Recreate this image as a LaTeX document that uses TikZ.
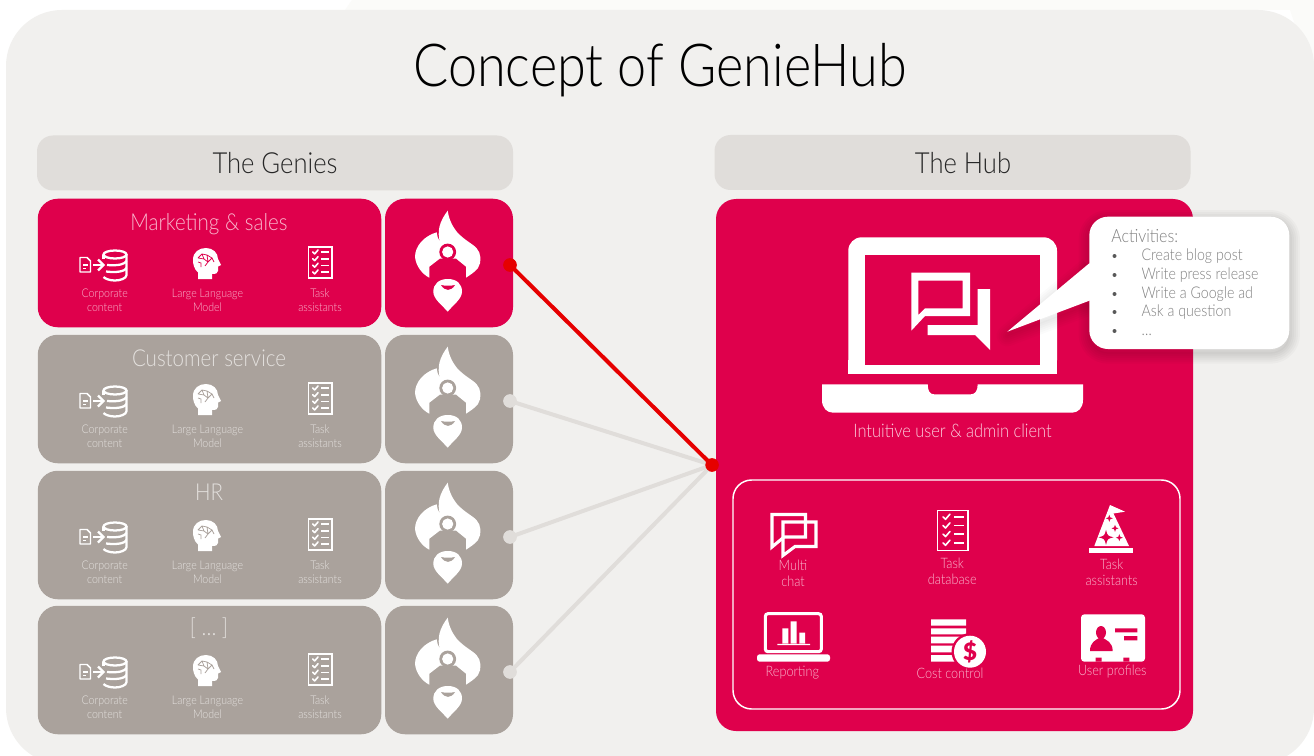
\documentclass[tikz,border=0pt]{standalone}
\usepackage{fontspec}
\setmainfont{Lato Light}[FakeStretch=0.88]
\definecolor{pink}{HTML}{DF004C}
\definecolor{paneL}{HTML}{F1F0EE}
\definecolor{faintbg}{HTML}{FBFBF9}
\definecolor{headbar}{HTML}{E0DDDA}
\definecolor{stone}{HTML}{AAA29C}
\definecolor{wirered}{HTML}{E60000}
\definecolor{pinklab}{HTML}{F9B6CC}
\definecolor{stonelab}{HTML}{E4E1DE}
\definecolor{calltext}{HTML}{808080}
\newcommand{\fs}[1]{\fontsize{#1pt}{#1pt}\selectfont}
\newcommand{\fsb}[2]{\fontsize{#1pt}{#2pt}\selectfont}
\tikzset{
  x=0.75pt,y=-0.75pt,
  sz/.style 2 args={minimum width=#1*0.75pt,minimum height=#2*0.75pt,inner sep=0pt,outer sep=0pt},
  card/.style={rounded corners=15pt,draw=none},
  bar/.style={sz={476}{55},fill=headbar,rounded corners=12pt,font=\fs{21.8},text=black!85},
  lab/.style={align=center,inner sep=0pt,font=\fsb{9}{10.2}},
  lab2/.style={align=center,inner sep=0pt,font=\fsb{10.8}{12},text=pinklab},
  calltxt/.style={anchor=mid west,inner sep=0pt,font=\fs{12.1},text=calltext},
  callbul/.style={circle,fill=black!65,minimum size=3pt,inner sep=0pt},
  wire/.style={line width=3pt,draw=headbar},
  dotg/.style={circle,fill=headbar,minimum size=10pt,inner sep=0pt},
  dotr/.style={circle,fill=wirered,minimum size=10pt,inner sep=0pt},
  iconline/.style={draw=white,line join=round,line cap=round},
}
% checklist icon
\newcommand{\chk}[3]{%
\begin{scope}[shift={(#1,#2)},scale=#3]
  \draw[white,line width=1.1pt] (-11.7,-15.3) rectangle (11.7,15.3);
  \foreach \yy in {-10.5,-3.8,2.8,9.5}{
    \draw[iconline,line width=1.2pt] (-7.5,\yy) -- (-5.6,\yy+1.9) -- (-2.2,\yy-2.1);
    \draw[white,line width=1.2pt] (1,\yy) -- (8.6,\yy);
  }
\end{scope}}
% genie icon, centre on ring axis
\newcommand{\genie}[3]{%
\begin{scope}[shift={(#1,#2)}]
  \fill[white] (-0.3,-49.3) .. controls (1,-40) and (5,-33) .. (8.7,-28.3)
     .. controls (16,-20) and (25,-16) .. (28.7,-11.7)
     .. controls (33,-7) and (34,2) .. (30,8)
     .. controls (27,12) and (22,15) .. (18,17.7)
     -- (18,6.7) -- (8,-1.5) -- (-8,-1.5) -- (-18.7,6.7) -- (-18.7,17.7)
     .. controls (-26,14) and (-32,6) .. (-33,-3)
     .. controls (-33,-14) and (-24,-24) .. (-11.3,-27.7)
     .. controls (-11,-24) and (-10,-21) .. (-8,-18)
     .. controls (-11,-28) and (-9,-38) .. (-0.3,-49.3) -- cycle;
  \fill[#3] (-0.3,-8) circle (8.4);
  \fill[white] (-0.3,-8) circle (5.6);
  \fill[white] (-0.3,19) .. controls (-9,19) and (-14.7,24) .. (-14.7,31.7)
     .. controls (-14.7,39) and (-6,45) .. (-0.3,51.7)
     .. controls (5,45) and (14,39) .. (14,31.7)
     .. controls (14,24) and (9,19) .. (-0.3,19) -- cycle;
  \fill[#3] (-7,25) .. controls (-3,31.5) and (3,31.5) .. (7,25) .. controls (3,26) and (-3,26) .. (-7,25) -- cycle;
\end{scope}}
% one row of the left column
\newcommand{\genierow}[7]{% suffix, top, fill, label colour, title, dot, title y
  \node[sz={343.5}{128.5},fill=#3,card] (box#1) at (209.5,#2+64) {};
  \node[sz={128}{128.5},fill=#3,card] (gen#1) at (449,#2+64) {};
  \genie{448}{#2+61}{#3}
  \node[inner sep=0pt,font=\fs{17.5},text=#4] (ttl#1) at (209,#7) {#5};
  \begin{scope}[shift={(0,#2-199)}]
    % document + arrow + database
    \draw[white,line width=1.1pt,line join=round] (80,257.5) -- (87,257.5) -- (90.5,261) -- (90.5,272) -- (80,272) -- cycle;
    \draw[white,line width=1pt] (83,265) -- (87.5,265) (83,268.5) -- (86,268.5);
    \draw[white,line width=1.7pt] (93,265) -- (102,265);
    \draw[white,line width=1.7pt,line join=miter] (98,259.5) -- (103.5,265) -- (98,270.5);
    \draw[white,line width=1.7pt] (115,254.5) ellipse (11.5 and 4);
    \draw[white,line width=1.7pt] (126.5,254.5) -- (126.5,275) .. controls (126.5,278.5) and (120,280.5) .. (115,280.5) .. controls (110,280.5) and (105.5,279) .. (103.5,277);
    \draw[white,line width=1.7pt] (126.5,261) .. controls (125,264) and (119,266) .. (107,265);
    \draw[white,line width=1.7pt] (126.5,268) .. controls (125,271) and (118,273) .. (106,271.5);
    \draw[white,line width=1.7pt] (103.5,254.5) -- (103.5,259);
    % head with brain
    \fill[white] (198,279) -- (198,272.5) .. controls (194,269) and (193,264) .. (193,260)
       .. controls (193,252) and (199,248) .. (206,248) .. controls (213,248) and (218,253) .. (218,259)
       -- (221,265) -- (218,266.5) -- (218,271) .. controls (218,274) and (215,274) .. (212,274) -- (212,279) -- cycle;
    \draw[#3,line width=0.55pt] (198,258) -- (202,254) -- (207,255) -- (212,258) -- (208,262) -- (204,259) -- (198,258)
      (202,254) -- (204,259) (208,262) -- (205,266) (198,262) -- (201,263) -- (201,267) (207,255) -- (208,262) (212,258) -- (214,262);
    \chk{320.3}{262.5}{1}
    \node[lab,text=#4] (lc#1) at (104.7,300.5) {Corporate\\content};
    \node[lab,text=#4] (ll#1) at (207.5,300.5) {Large Language\\Model};
    \node[lab,text=#4] (lt#1) at (320,300) {Task\\assistants};
  \end{scope}
  \node[#6] (dot#1) at (510,#2+66) {};
}
\begin{document}
\begin{tikzpicture}
\useasboundingbox (0,0) rectangle (1314,756);
\begin{scope}
\clip (0,0) rectangle (1314,756);
\fill[white] (0,0) rectangle (1314,756);
\fill[faintbg] (345,10) -- (352,0) -- (1314,0) -- (1314,80) -- (1290,10) -- cycle;
\fill[paneL,rounded corners=42pt] (6,10) rectangle (1314,764);
\end{scope}

\node[inner sep=0pt,font=\fs{44.5},text=black] (title) at (660,70) {Concept of GenieHub};
\node[bar] (genies) at (275,163) {The Genies};
\node[bar] (hubbar) at (952.5,162.5) {};
\node[inner sep=0pt,font=\fs{21.8},text=black!85] (hubttl) at (963,163) {The Hub};

% hub panel
\node[sz={477}{532},fill=pink,card] (hub) at (954.5,465) {};

% rows
\genierow{a}{199}{pink}{pinklab}{Marketing \& sales}{dotr}{224}
\genierow{b}{335}{stone}{stonelab}{Customer service}{dotg}{358}
\genierow{c}{471}{stone}{stonelab}{HR}{dotg}{492.5}
\genierow{d}{606}{stone}{stonelab}{[ … ]}{dotg}{628}

% connectors
\node[dotr] (join) at (712,465) {};
\draw[wire] (dotb.center) -- (join.center);
\draw[wire] (dotc.center) -- (join.center);
\draw[wire] (dotd.center) -- (join.center);
\node[dotg] at (dotb) {};
\node[dotg] at (dotc) {};
\node[dotg] at (dotd) {};
\draw[line width=3pt,draw=wirered] (dota.center) -- (join.center);
\node[dotr] at (join) {};
\node[dotr] at (dota) {};

% laptop
\fill[white,rounded corners=10pt] (848.3,373.7) -- (848.3,237.3) -- (1057,237.3) -- (1057,373.7) -- cycle;
\fill[white] (848.3,360) rectangle (1057,373.7);
\fill[pink] (865,255.3) rectangle (1040,365.3);
\fill[white] (822,384.3) -- (927.7,384.3) .. controls (927.7,391) and (930,394.3) .. (934,394.3) -- (971,394.3) .. controls (975,394.3) and (977.7,391) .. (977.7,384.3) -- (1083,384.3) -- (1083,400) .. controls (1083,408) and (1078,412.7) .. (1072,412.7) -- (833,412.7) .. controls (827,412.7) and (822,408) .. (822,400) -- cycle;
\fill[white,even odd rule] (911.3,272.7) -- (970,272.7) -- (970,316) -- (925,316) -- (911.3,330.7) -- cycle
  (918.3,280.7) -- (918.3,315) -- (925,308.3) -- (962.7,308.3) -- (962.7,280.7) -- cycle;
\fill[white] (977.7,289) -- (990,289) -- (990,350) -- (975,335) -- (927.7,335) -- (927.7,325) -- (977.7,325) -- cycle;
\node[inner sep=0pt,font=\fs{14},text=pinklab!70!white] (client) at (952.5,431) {Intuitive user \& admin client};

% callout
\foreach \w in {16,13,10,7,4,1}{
  \draw[black,draw opacity=0.022,line width=\w pt,line join=round,rounded corners=14pt,shift={(0,4)}]
    (1089.3,216.7) rectangle (1289.3,349);
  \draw[black,draw opacity=0.014,line width=\w pt,line join=round,shift={(0,4)}]
    (1089.3,263.3) -- (1007.3,331.7) -- (1089.3,300.7);
}
\fill[white] (1007.3,331.7) -- (1089.3,263.3) -- (1100,263.3) -- (1100,300.7) -- (1089.3,300.7) -- cycle;
\node[sz={200}{132.3},fill=white,rounded corners=14pt] (callout) at (1189.3,282.85) {};
\node[calltxt,font=\fs{13.6}] (act) at (1111,239) {Activities:};
\foreach \n/\yy/\t in {1/256/Create blog post,2/275/Write press release,3/294/Write a Google ad,4/312/Ask a question,5/331/…}{
  \node[callbul] (b\n) at (1114.5,\yy) {};
  \node[calltxt] (t\n) at (1141.3,\yy+1.5) {\t};
}

% inner frame
\node[sz={447}{229},draw=white,line width=1.1pt,rounded corners=14pt] (frame) at (956.5,594.5) {};

% multi chat
\draw[white,line width=2.3pt,line join=miter] (772,514.5) -- (805.5,514.5) -- (805.5,537) -- (784,537) -- (772,547) -- cycle;
\draw[white,line width=2.3pt,line join=miter] (783,522) -- (816,522) -- (816,546.5) -- (795,546.5) -- (783,555.5) -- cycle;
\node[lab2] (m1) at (793,573) {Multi\\chat};
% task db
\chk{952.8}{530.5}{1.3}
\node[lab2] (m2) at (952.3,571.5) {Task\\database};
% wizard hat
\fill[white] (1110,505) -- (1125,511.7) -- (1113.5,513.5) -- (1129,546) -- (1094.3,546) -- cycle;
\fill[white] (1089,548.3) rectangle (1133,553);
\foreach \cx/\cy/\s in {1106/537.3/7.5,1109.3/518.3/3.5,1115/528.3/3.5,1119.3/537.7/3.5}{
  \fill[pink] (\cx,\cy-\s) .. controls (\cx+0.2*\s,\cy-0.2*\s) .. (\cx+\s,\cy) .. controls (\cx+0.2*\s,\cy+0.2*\s) .. (\cx,\cy+\s) .. controls (\cx-0.2*\s,\cy+0.2*\s) .. (\cx-\s,\cy) .. controls (\cx-0.2*\s,\cy-0.2*\s) .. (\cx,\cy-\s) -- cycle;
}
\node[lab2] (m3) at (1111.7,572.5) {Task\\assistants};
% reporting
\draw[white,line width=2.3pt,rounded corners=2pt] (765.3,651.7) -- (765.3,613.7) -- (821.3,613.7) -- (821.3,651.7) -- cycle;
\fill[white,rounded corners=2pt] (757,654.3) rectangle (830,661.7);
\fill[white] (782.3,628.3) rectangle (788.3,643.3) (790.7,621.3) rectangle (796.7,643.3) (799.3,632.7) rectangle (805,643.3) (777.3,643.8) rectangle (810,645);
\node[lab2] (m4) at (792.3,673) {Reporting};
% cost control
\fill[white] (931,619.3) rectangle (966,625.7) (931,628.3) rectangle (966,634.3) (931,636.7) rectangle (966,643.3) (931,645.7) rectangle (966,652.3) (931,655) rectangle (966,661.7);
\fill[pink] (970,651.7) circle (18.5);
\fill[white] (970,651.7) circle (16);
\node[inner sep=0pt,font=\fontspec{Lato Black}\fs{18},text=pink] (dollar) at (970,651.5) {\$};
\node[lab2] (m5) at (950,673) {Cost control};
% user profile
\fill[white,rounded corners=2.5pt] (1081,614.3) rectangle (1145,661.7);
\fill[pink] (1095.7,657.7) rectangle (1101.7,661.7) (1123.3,657.7) rectangle (1129.3,661.7);
\fill[pink] (1101,632.5) ellipse (5 and 6.5);
\fill[pink] (1090,651) .. controls (1090,642) and (1096,640) .. (1099,638) -- (1103,638) .. controls (1106,640) and (1112.7,642) .. (1112.7,651) -- cycle;
\fill[pink] (1115,628.3) rectangle (1137.3,632.3) (1124,636) rectangle (1137.3,640.3);
\node[lab2] (m6) at (1112.3,672) {User profiles};
\end{tikzpicture}
\end{document}
